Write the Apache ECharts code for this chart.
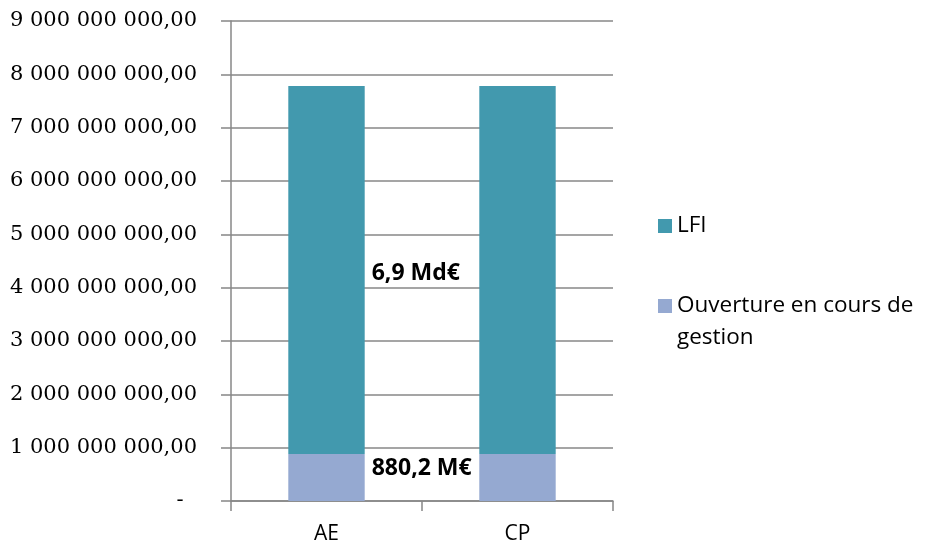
<!DOCTYPE html>
<html>
<head>
<meta charset="utf-8">
<script src="https://cdn.jsdelivr.net/npm/echarts@6/dist/echarts.min.js"></script>
<style>
  html, body { margin: 0; padding: 0; background: #fff; }
  #chart { width: 925px; height: 550px; }
</style>
</head>
<body>
<div id="chart"></div>
<script>
// Budget credits: authorisations d'engagement (AE) and crédits de paiement (CP)
const categories = ['AE', 'CP'];
const seriesNames = ['Ouverture en cours de\ngestion', 'LFI'];
const ouvertureValues = [880200000, 880200000];
const lfiValues = [6900000000, 6900000000];
const yTicks = { min: 0, max: 9000000000, interval: 1000000000 };

const gridColor = '#878787';
const sans = '"Open Sans", Lato, sans-serif';

function formatAmount(v) {
  if (v === 0) return '-  ';
  const s = Math.round(v).toString().replace(/\B(?=(\d{3})+(?!\d))/g, ' ');
  return s + ',00';
}
function formatMd(v) {
  return (v / 1e9).toFixed(1).replace('.', ',') + ' Md€';
}
function formatM(v) {
  return (v / 1e6).toFixed(1).replace('.', ',') + ' M€';
}

const labelStyle = {
  color: '#000',
  fontFamily: sans,
  fontWeight: 'bold',
  fontSize: 23
};

const legendText = { fontFamily: sans, fontSize: 22.5, color: '#000', lineHeight: 32 };

const chart = echarts.init(document.getElementById('chart'), null, { renderer: 'canvas' });
chart.setOption({
  animation: false,
  backgroundColor: '#fff',
  grid: { left: 231, right: 312, top: 21, bottom: 49 },
  legend: [
    {
      data: [seriesNames[1]],
      left: 653, top: 205,
      itemWidth: 14, itemHeight: 14, itemGap: 0,
      icon: 'rect',
      textStyle: legendText
    },
    {
      // leading blank line keeps the first text line level with the swatch
      data: [seriesNames[0]],
      left: 653, top: 253,
      itemWidth: 14, itemHeight: 14, itemGap: 0,
      icon: 'rect',
      formatter: name => '\n' + name,
      textStyle: legendText
    }
  ],
  xAxis: {
    type: 'category',
    data: categories,
    boundaryGap: true,
    axisLine: { lineStyle: { color: gridColor, width: 1.5 } },
    axisTick: { show: true, length: 10, inside: false, alignWithLabel: false, lineStyle: { color: gridColor, width: 1.5 } },
    axisLabel: { margin: 23, color: '#000', fontFamily: sans, fontSize: 21 }
  },
  yAxis: {
    type: 'value',
    min: yTicks.min, max: yTicks.max, interval: yTicks.interval,
    axisLine: { show: true, lineStyle: { color: gridColor, width: 1.5 } },
    axisTick: { show: true, length: 10, inside: false, lineStyle: { color: gridColor, width: 1.5 } },
    splitLine: { show: true, lineStyle: { color: gridColor, width: 1.5 } },
    axisLabel: {
      margin: 34, color: '#000',
      fontFamily: '"DejaVu Serif", "Liberation Serif", serif', fontSize: 21,
      formatter: formatAmount
    }
  },
  series: [
    {
      name: seriesNames[0],
      type: 'bar',
      stack: 'total',
      barWidth: '40%',
      itemStyle: { color: '#95A9D1' },
      data: ouvertureValues.map((v, i) => ({
        value: v,
        label: i === 0 ? {
          show: true, position: 'right', distance: 7, offset: [0, -9],
          formatter: p => formatM(p.value), ...labelStyle
        } : { show: false }
      }))
    },
    {
      name: seriesNames[1],
      type: 'bar',
      stack: 'total',
      barWidth: '40%',
      itemStyle: { color: '#4299AE' },
      data: lfiValues.map((v, i) => ({
        value: v,
        label: i === 0 ? {
          show: true, position: 'right', distance: 7, offset: [0, 3],
          formatter: p => formatMd(p.value), ...labelStyle
        } : { show: false }
      }))
    }
  ]
});
</script>
</body>
</html>
